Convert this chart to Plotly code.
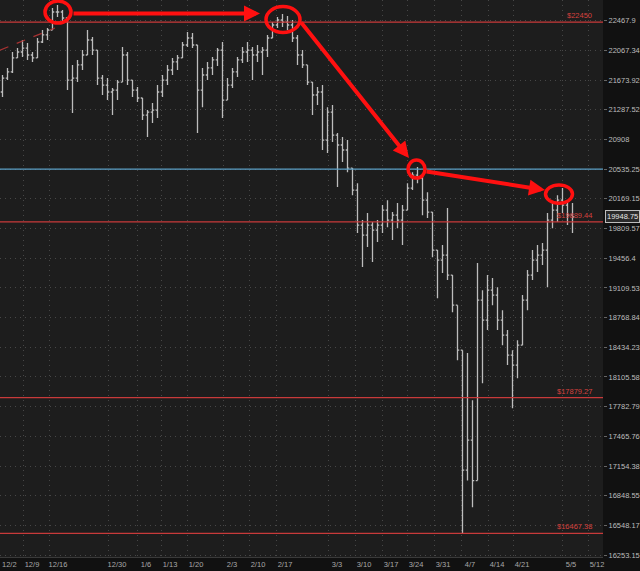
import numpy as np
import plotly.graph_objects as go

# ---------------- data ----------------
bar_open = [21518, 21701, 21781, 21967, 22046, 22099, 22006, 21967, 22180, 22275,
            22342, 22587, 22587, 22505, 21674, 21701, 21874, 22006, 22207, 22072,
            21701, 21609, 21518, 21544, 21648, 22006, 21674, 21544, 21440, 21220,
            21258, 21284, 21518, 21674, 21807, 21914, 21967, 22140, 22234, 22140,
            21544, 21741, 21834, 21940, 22072, 21413, 21609, 21781, 21940, 22046,
            22072, 22006, 22046, 22072, 22234, 22410, 22478, 22450, 22410, 22234,
            22006, 21874, 21648, 21479, 21518, 20900, 21258, 20964, 20838, 20775,
            20549, 20276, 19851, 19731, 19851, 19791, 19851, 20032, 19911, 19971,
            19911, 20032, 20301, 20461, 20424, 20153, 20008, 19553, 19434, 19493,
            19259, 18911, 18402, 17111, 17425, 17004, 18968, 18740, 19083, 19026,
            18740, 18570, 18347, 18236, 18458, 18968, 19259, 19434, 19493, 19553,
            19911, 20032, 20153, 20093, 19971]
bar_high = [21741, 21834, 22046, 22099, 22207, 22167, 22046, 22234, 22342, 22369,
            22642, 22683, 22614, 22505, 21874, 21940, 22072, 22342, 22248, 22072,
            21741, 21701, 21570, 21674, 22113, 22046, 21674, 21583, 21440, 21284,
            21374, 21609, 21741, 21874, 21967, 22006, 22180, 22315, 22302, 22140,
            21834, 21914, 21980, 22099, 22180, 21701, 21834, 21980, 22113, 22180,
            22113, 22140, 22113, 22275, 22450, 22519, 22560, 22532, 22478, 22275,
            22072, 21874, 21648, 21583, 21609, 21321, 21348, 20990, 20938, 20900,
            20549, 20362, 19911, 19996, 19887, 19911, 20093, 20153, 20008, 20117,
            20093, 20362, 20498, 20561, 20461, 20251, 20008, 19553, 19612, 20056,
            19259, 18911, 18402, 18369, 17852, 19399, 19083, 19259, 19224, 19118,
            18853, 18627, 18402, 18514, 19026, 19317, 19553, 19612, 19636, 19996,
            20117, 20214, 20301, 20129, 20117]
bar_low = [21453, 21674, 21768, 21967, 21980, 21940, 21914, 21967, 22167, 22207,
           22342, 22519, 22450, 21544, 21245, 21648, 21807, 22006, 22006, 21609,
           21479, 21413, 21220, 21413, 21648, 21609, 21453, 21387, 21156, 20938,
           21117, 21181, 21453, 21609, 21741, 21807, 21967, 22113, 22099, 20990,
           21321, 21674, 21741, 21860, 21181, 21413, 21570, 21715, 21900, 21914,
           21674, 21914, 21741, 21980, 22234, 22369, 22383, 22342, 22180, 21874,
           21834, 21609, 21220, 21348, 20775, 20737, 20875, 20313, 20624, 20498,
           20214, 19755, 19352, 19588, 19411, 19648, 19755, 19826, 19672, 19814,
           19612, 20032, 20276, 20362, 19971, 19935, 19469, 18991, 19282, 19200,
           18830, 18291, 16467.38, 17004, 16731, 17004, 18037, 18627, 18911, 18627,
           18458, 18236, 17766, 18091, 18458, 18853, 19200, 19294, 19376, 19118,
           19814, 19887, 19996, 19851, 19755]
bar_close = [21701, 21781, 21967, 22046, 22099, 22006, 21967, 22180, 22275, 22342,
             22587, 22587, 22505, 21674, 21701, 21874, 22006, 22207, 22072, 21701,
             21609, 21518, 21544, 21648, 22006, 21674, 21544, 21440, 21220, 21258,
             21284, 21518, 21674, 21807, 21914, 21967, 22140, 22234, 22140, 21544,
             21741, 21834, 21940, 22072, 21413, 21609, 21781, 21940, 22046, 22072,
             22006, 22046, 22072, 22234, 22410, 22478, 22450, 22410, 22234, 22006,
             21874, 21648, 21479, 21518, 20900, 21258, 20964, 20838, 20775, 20549,
             20276, 19851, 19731, 19851, 19791, 19851, 20032, 19911, 19971, 19911,
             20032, 20301, 20461, 20424, 20153, 20008, 19553, 19434, 19493, 19259,
             18911, 18402, 17111, 17425, 17004, 18968, 18740, 19083, 19026, 18740,
             18570, 18347, 18236, 18458, 18968, 19259, 19434, 19493, 19553, 19911,
             20032, 20153, 20093, 19971, 19948.75]
bar_index = list(range(len(bar_close)))

# date axis: bar positions of the weekly grid lines and their labels
date_tick_pos = [4.1, 9.3, 21.1, 26.9, 31.7, 36.9, 44.1, 49.3, 54.7, 65.1,
                 70.5, 75.9, 80.9, 86.3, 91.7, 97.1, 102.1, 111.9, 117.1]
date_tick_text = ["12/9", "12/16", "12/30", "1/6", "1/13", "1/20", "2/3", "2/10", "2/17",
                  "3/3", "3/10", "3/17", "3/24", "3/31", "4/7", "4/14", "4/21", "5/5", "5/12"]
first_date_text = "12/2"   # sits at the very left edge

price_ticks = [22467.9, 22067.34, 21673.92, 21287.52, 20908, 20535.25, 20169.15, 19809.57,
               19456.4, 19109.53, 18768.84, 18434.23, 18105.58, 17782.79, 17465.76,
               17154.38, 16848.55, 16548.17, 16253.15]
price_tick_text = ["22467.9", "22067.34", "21673.92", "21287.52", "20908", "20535.25",
                   "20169.15", "19809.57", "19456.4", "19109.53", "18768.84", "18434.23",
                   "18105.58", "17782.79", "17465.76", "17154.38", "16848.55", "16548.17",
                   "16253.15"]

red_levels = [22450, 19889.44, 17879.27, 16467.38]
red_level_text = ["$22450", "$19889.44", "$17879.27", "$16467.38"]
blue_level = 20535.25
last_price = 19948.75
y_bottom, y_top = 16234, 22752

# ---------------- styles ----------------
FONT = "Liberation Sans, Arial, sans-serif"
RED = "#ff1010"
LEVEL_RED = "#c83a3a"
GRID = "#474747"

fig = go.Figure()
fig.add_trace(go.Ohlc(
    x=bar_index, open=bar_open, high=bar_high, low=bar_low, close=bar_close,
    increasing=dict(line=dict(color="#bdbdbd", width=1.3)),
    decreasing=dict(line=dict(color="#bdbdbd", width=1.3)),
    tickwidth=0.35, hoverinfo="skip", showlegend=False,
))

shapes = []
for lv in red_levels:
    shapes.append(dict(type="line", xref="paper", x0=0, x1=1, yref="y", y0=lv, y1=lv,
                       line=dict(color=LEVEL_RED, width=1.2), layer="above"))
shapes.append(dict(type="line", xref="paper", x0=0, x1=1, yref="y", y0=blue_level, y1=blue_level,
                   line=dict(color="#5b9fc6", width=1.2), layer="above"))
# dashed trend line at the top left
shapes.append(dict(type="line", xref="x", yref="y", x0=-0.5, y0=22072, x1=10.5, y1=22369,
                   line=dict(color="#a83232", width=1.2, dash="dash")))
# red circles around the peaks (bar units / prices)
circles = [(8.5, 13.7, 22737.8, 22436.6),
           (52.7, 59.5, 22662.0, 22307.8),
           (81.1, 84.5, 20648.5, 20424.5),
           (108.6, 114.0, 20340.3, 20114.6)]
for (x0, x1, y0, y1) in circles:
    shapes.append(dict(type="circle", xref="x", yref="y", x0=x0, x1=x1, y0=y0, y1=y1,
                       line=dict(color=RED, width=3.5)))

annotations = []
arrows = [((13.9, 22567), (51.5, 22567)),
          ((59.5, 22464), (81.3, 20674)),
          ((84.5, 20510), (108.5, 20276))]
for (tx, ty), (hx, hy) in arrows:
    annotations.append(dict(x=hx, y=np.log10(hy), ax=tx, ay=np.log10(ty), xref="x", yref="y",
                            axref="x", ayref="y", text="", showarrow=True, arrowhead=2,
                            arrowsize=0.8, arrowwidth=4, arrowcolor=RED, standoff=0))
for lv, txt in zip(red_levels, red_level_text):
    annotations.append(dict(x=0.985, xref="paper", xanchor="right", y=np.log10(lv), yref="y",
                            yanchor="bottom", text=txt, showarrow=False,
                            font=dict(family=FONT, size=7.5, color="#d6413d")))
annotations.append(dict(x=1, xref="paper", xanchor="left", xshift=2, y=np.log10(last_price),
                        yref="y", text=f"{last_price:.2f}", showarrow=False,
                        bgcolor="#2a2a2a", bordercolor="#bdbdbd", borderwidth=1, borderpad=1,
                        font=dict(family=FONT, size=7.5, color="#e6e6e6")))
annotations.append(dict(x=0, xref="paper", xanchor="left", xshift=0, y=0, yref="paper",
                        yanchor="top", yshift=-1, text=first_date_text, showarrow=False,
                        font=dict(family=FONT, size=7.5, color="#a8a8a8")))

fig.update_layout(
    width=640, height=571,
    margin=dict(l=0, r=37, t=0, b=14, autoexpand=False),
    paper_bgcolor="#111111", plot_bgcolor="#1d1d1d",
    showlegend=False,
    shapes=shapes, annotations=annotations,
    font=dict(family=FONT, size=7.5, color="#bdbdbd"),
    xaxis=dict(range=[-0.5, 120.1], tickmode="array", tickvals=date_tick_pos,
               ticktext=date_tick_text, showgrid=True, gridcolor=GRID, griddash="1px,4px",
               gridwidth=1, zeroline=False, showline=True, linecolor="#3a3a3a",
               ticks="", ticklabelshift=9, ticklabeloverflow="allow",
               rangeslider=dict(visible=False),
               tickfont=dict(family=FONT, size=7.5, color="#a8a8a8"), fixedrange=True),
    yaxis=dict(type="log", range=[np.log10(y_bottom), np.log10(y_top)], side="right",
               tickmode="array", tickvals=price_ticks, ticktext=price_tick_text,
               showgrid=True, gridcolor=GRID, griddash="1px,4px", gridwidth=1,
               zeroline=False, showline=False, ticks="outside", ticklen=3,
               tickcolor="#666666", tickfont=dict(family=FONT, size=7.5, color="#bdbdbd"),
               fixedrange=True),
)

fig.write_html("out.html", config={"displayModeBar": False},
               post_script="document.body.style.margin='0';document.body.style.overflow='hidden';")
